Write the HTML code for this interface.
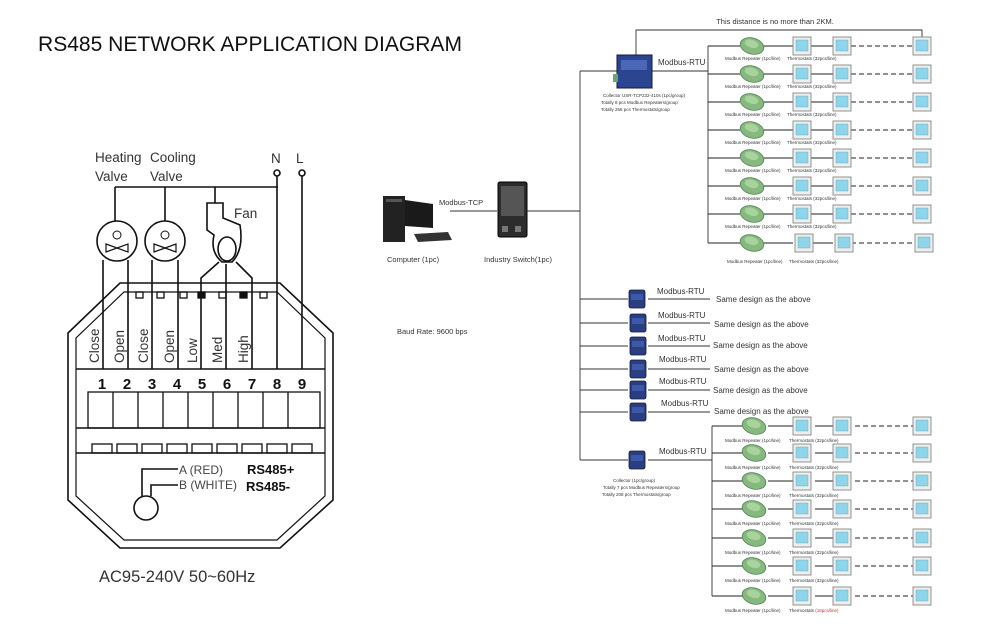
<!DOCTYPE html>
<html><head><meta charset="utf-8"><style>
html,body{margin:0;padding:0;background:#fff;width:1000px;height:636px;overflow:hidden}
svg{display:block}
text{font-family:"Liberation Sans",sans-serif}
</style></head><body>
<svg width="1000" height="636" viewBox="0 0 1000 636" xmlns="http://www.w3.org/2000/svg">
<defs>
<g id="th"><rect x="-9" y="-9" width="18" height="18" fill="#eeeeee" stroke="#888" stroke-width="0.9"/><rect x="-6" y="-6" width="12" height="11" fill="#8ed4ea" stroke="#5aa" stroke-width="0.4"/></g>
<g id="rep"><ellipse cx="0" cy="0" rx="12" ry="8" fill="#86b97e" stroke="#4f7f55" stroke-width="0.8" transform="rotate(15)"/><ellipse cx="-1" cy="-2" rx="7" ry="4" fill="#a9d39c" transform="rotate(15)"/></g>
<g id="col"><rect x="-8" y="-9" width="16" height="18" rx="2" fill="#2b3f80" stroke="#111a40" stroke-width="0.8"/><rect x="-6" y="-5" width="12" height="6" fill="#3d5aa8"/></g>
<g id="row" stroke="#222" stroke-width="1" fill="none">
<line x1="0" y1="0" x2="32" y2="0"/><line x1="56" y1="0" x2="85" y2="0"/><line x1="103" y1="0" x2="125" y2="0"/>
<line x1="143" y1="0" x2="205" y2="0" stroke-dasharray="5,3"/>
</g>
</defs>
<text x="38" y="51" font-size="21" fill="#111" textLength="424" lengthAdjust="spacingAndGlyphs">RS485 NETWORK APPLICATION DIAGRAM</text>

<!-- left wiring diagram -->
<g fill="none" stroke="#111" stroke-width="1.6">
<text x="95" y="162" font-size="13.5" fill="#333" stroke="none">Heating</text>
<text x="95" y="181" font-size="13.5" fill="#333" stroke="none">Valve</text>
<text x="150" y="162" font-size="13.5" fill="#333" stroke="none">Cooling</text>
<text x="150" y="181" font-size="13.5" fill="#333" stroke="none">Valve</text>
<text x="271" y="163" font-size="13.5" fill="#333" stroke="none">N</text>
<text x="296" y="163" font-size="13.5" fill="#333" stroke="none">L</text>
<text x="234" y="218" font-size="13.5" fill="#333" stroke="none">Fan</text>
<circle cx="277" cy="173" r="3"/><circle cx="302" cy="173" r="3"/>
<line x1="115" y1="187" x2="278" y2="187"/>
<line x1="115" y1="187" x2="115" y2="221"/><line x1="165" y1="187" x2="165" y2="221"/>
<line x1="215" y1="187" x2="215" y2="203"/>
<line x1="277" y1="176" x2="277" y2="369"/><line x1="302" y1="176" x2="302" y2="369"/>
<circle cx="117" cy="241" r="20"/><circle cx="165" cy="241" r="20"/>
<circle cx="117" cy="235" r="4" stroke-width="1"/><circle cx="165" cy="235" r="4" stroke-width="1"/>
<path d="M106 244 L128 252 L128 244 L106 252 Z" stroke-width="1.2"/>
<path d="M154 244 L176 252 L176 244 L154 252 Z" stroke-width="1.2"/>
<path d="M207 203 L223 203 L223 218 L240 225 Q244 250 232 262 L222 262 Q210 252 214 235 L207 230 Z"/>
<ellipse cx="227" cy="249" rx="9" ry="12"/>
<path d="M219 262 L201 278 L201 369"/><line x1="226" y1="264" x2="226" y2="369"/><path d="M236 262 L252 278 L252 369"/>
<line x1="103" y1="260" x2="103" y2="369"/><line x1="128" y1="260" x2="128" y2="369"/>
<line x1="152" y1="260" x2="152" y2="369"/><line x1="178" y1="260" x2="178" y2="369"/>
<!-- housing -->
<path d="M120 283 L280 283 L333 333 L333 500 L280 548 L120 548 L68 500 L68 333 Z"/>
<path d="M124 292 L277 292 L325 338 L325 496 L277 540 L124 540 L76 496 L76 338 Z" stroke-width="1.2"/>
<line x1="76" y1="369" x2="325" y2="369"/>
<line x1="76" y1="428" x2="325" y2="428"/>
<line x1="76" y1="453" x2="325" y2="453"/>
<g stroke-width="1.3">
<rect x="88" y="392" width="232" height="36"/>
<line x1="113" y1="392" x2="113" y2="428"/><line x1="138" y1="392" x2="138" y2="428"/><line x1="163" y1="392" x2="163" y2="428"/><line x1="188" y1="392" x2="188" y2="428"/><line x1="213" y1="392" x2="213" y2="428"/><line x1="238" y1="392" x2="238" y2="428"/><line x1="263" y1="392" x2="263" y2="428"/><line x1="288" y1="392" x2="288" y2="428"/>
<rect x="92" y="444" width="20" height="9"/><rect x="117" y="444" width="20" height="9"/><rect x="142" y="444" width="20" height="9"/><rect x="167" y="444" width="20" height="9"/><rect x="192" y="444" width="20" height="9"/><rect x="217" y="444" width="20" height="9"/><rect x="242" y="444" width="20" height="9"/><rect x="267" y="444" width="20" height="9"/><rect x="292" y="444" width="20" height="9"/>
<rect x="136" y="292" width="7" height="6"/><rect x="157" y="292" width="7" height="6"/><rect x="180" y="292" width="7" height="6"/><rect x="198" y="292" width="7" height="6" fill="#111"/><rect x="219" y="292" width="7" height="6"/><rect x="240" y="292" width="7" height="6" fill="#111"/><rect x="260" y="292" width="7" height="6"/>
</g>
<path d="M178 469 L142 469 L142 496"/><path d="M178 485 L151 485 L151 496"/>
<circle cx="146" cy="508" r="12"/>
</g>
<g font-size="13.5" fill="#333">
<text transform="translate(99,363) rotate(-90)">Close</text>
<text transform="translate(124,363) rotate(-90)">Open</text>
<text transform="translate(148,363) rotate(-90)">Close</text>
<text transform="translate(174,363) rotate(-90)">Open</text>
<text transform="translate(197,363) rotate(-90)">Low</text>
<text transform="translate(222,363) rotate(-90)">Med</text>
<text transform="translate(248,363) rotate(-90)">High</text>
</g>
<g font-size="15" font-weight="bold" fill="#111" text-anchor="middle">
<text x="102" y="389">1</text><text x="127" y="389">2</text><text x="152" y="389">3</text><text x="177" y="389">4</text><text x="202" y="389">5</text><text x="227" y="389">6</text><text x="252" y="389">7</text><text x="277" y="389">8</text><text x="302" y="389">9</text>
</g>
<text x="179" y="474" font-size="12" fill="#444">A (RED)</text>
<text x="179" y="489" font-size="12" fill="#444">B (WHITE)</text>
<text x="247" y="474" font-size="13" font-weight="bold" fill="#111">RS485+</text>
<text x="246" y="491" font-size="13" font-weight="bold" fill="#111">RS485-</text>
<text x="99" y="582" font-size="16.5" fill="#333">AC95-240V  50~60Hz</text>

<!-- middle: computer & switch -->
<rect x="383" y="196" width="22" height="46" fill="#222"/><rect x="386" y="199" width="16" height="3" fill="#555"/>
<path d="M405 200 L433 204 L433 228 L405 226 Z" fill="#1a1a1a"/>
<path d="M414 234 L448 232 L452 240 L418 242 Z" fill="#333"/>
<rect x="498" y="182" width="29" height="55" rx="2" fill="#2c2c2c" stroke="#000"/>
<rect x="501" y="186" width="23" height="30" fill="#555"/><rect x="502" y="226" width="6" height="6" fill="#777"/><rect x="515" y="226" width="6" height="6" fill="#777"/>
<line x1="450" y1="211" x2="497" y2="211" stroke="#333"/>
<text x="439" y="205" font-size="7.5" fill="#333">Modbus-TCP</text>
<text x="387" y="262" font-size="7.5" fill="#333">Computer (1pc)</text>
<text x="484" y="262" font-size="7.5" fill="#333">Industry Switch(1pc)</text>
<text x="397" y="334" font-size="7.5" fill="#333">Baud Rate: 9600 bps</text>

<!-- right network -->
<g stroke="#333" stroke-width="0.9" fill="none">
<line x1="527" y1="211" x2="580" y2="211"/>
<line x1="580" y1="71" x2="580" y2="460"/>
<line x1="580" y1="71" x2="617" y2="71"/>
<line x1="652" y1="71" x2="708" y2="71"/>
<path d="M636 55 L636 30 L922 30 L922 37"/>
<line x1="708" y1="46" x2="708" y2="243"/>
<line x1="580" y1="299" x2="628" y2="299"/><line x1="648" y1="299" x2="710" y2="299"/>
<line x1="580" y1="323" x2="628" y2="323"/><line x1="648" y1="323" x2="710" y2="323"/>
<line x1="580" y1="346" x2="628" y2="346"/><line x1="648" y1="346" x2="710" y2="346"/>
<line x1="580" y1="369" x2="628" y2="369"/><line x1="648" y1="369" x2="710" y2="369"/>
<line x1="580" y1="390" x2="628" y2="390"/><line x1="648" y1="390" x2="710" y2="390"/>
<line x1="580" y1="412" x2="628" y2="412"/><line x1="648" y1="412" x2="710" y2="412"/>
<line x1="580" y1="460" x2="628" y2="460"/><line x1="648" y1="460" x2="712" y2="460"/>
<line x1="712" y1="426" x2="712" y2="596"/>
</g>
<rect x="617" y="55" width="35" height="33" fill="#2b4590" stroke="#111a40"/>
<rect x="621" y="60" width="26" height="10" fill="#4a68b8"/><rect x="613" y="74" width="5" height="8" fill="#6a6"/>
<text x="775" y="24" font-size="7.5" fill="#333" text-anchor="middle">This distance is no more than 2KM.</text>
<text x="658" y="65" font-size="8" fill="#333">Modbus-RTU</text>
<g font-size="4.5" fill="#333"><text x="603" y="97">Collector USR-TCP232-410s (1pc/group)</text><text x="601" y="104">Totally 8 pcs Modbus Repeaters/group</text><text x="601" y="111">Totally 256 pcs Thermostats/group</text></g>

<g transform="translate(708,46)"><use href="#row"/><use href="#rep" x="44"/><use href="#th" x="94"/><use href="#th" x="134"/><use href="#th" x="214"/></g>
<g transform="translate(708,74)"><use href="#row"/><use href="#rep" x="44"/><use href="#th" x="94"/><use href="#th" x="134"/><use href="#th" x="214"/></g>
<g transform="translate(708,102)"><use href="#row"/><use href="#rep" x="44"/><use href="#th" x="94"/><use href="#th" x="134"/><use href="#th" x="214"/></g>
<g transform="translate(708,130)"><use href="#row"/><use href="#rep" x="44"/><use href="#th" x="94"/><use href="#th" x="134"/><use href="#th" x="214"/></g>
<g transform="translate(708,158)"><use href="#row"/><use href="#rep" x="44"/><use href="#th" x="94"/><use href="#th" x="134"/><use href="#th" x="214"/></g>
<g transform="translate(708,186)"><use href="#row"/><use href="#rep" x="44"/><use href="#th" x="94"/><use href="#th" x="134"/><use href="#th" x="214"/></g>
<g transform="translate(708,214)"><use href="#row"/><use href="#rep" x="44"/><use href="#th" x="94"/><use href="#th" x="134"/><use href="#th" x="214"/></g>
<g transform="translate(708,243)"><use href="#row"/><use href="#rep" x="44"/><use href="#th" x="96"/><use href="#th" x="136"/><use href="#th" x="216"/></g>
<g font-size="4.5" fill="#333">
<text x="725" y="60">Modbus Repeater (1pc/line)</text><text x="787" y="60">Thermostats (32pcs/line)</text>
<text x="725" y="88">Modbus Repeater (1pc/line)</text><text x="787" y="88">Thermostats (32pcs/line)</text>
<text x="725" y="116">Modbus Repeater (1pc/line)</text><text x="787" y="116">Thermostats (32pcs/line)</text>
<text x="725" y="144">Modbus Repeater (1pc/line)</text><text x="787" y="144">Thermostats (32pcs/line)</text>
<text x="725" y="172">Modbus Repeater (1pc/line)</text><text x="787" y="172">Thermostats (32pcs/line)</text>
<text x="725" y="200">Modbus Repeater (1pc/line)</text><text x="787" y="200">Thermostats (32pcs/line)</text>
<text x="725" y="228">Modbus Repeater (1pc/line)</text><text x="787" y="228">Thermostats (32pcs/line)</text>
<text x="727" y="263">Modbus Repeater (1pc/line)</text><text x="789" y="263">Thermostats (32pcs/line)</text>
</g>

<use href="#col" x="637" y="299"/><use href="#col" x="638" y="323"/><use href="#col" x="638" y="346"/><use href="#col" x="638" y="369"/><use href="#col" x="638" y="390"/><use href="#col" x="638" y="412"/><use href="#col" x="637" y="460"/>
<g font-size="8" fill="#333">
<text x="657" y="294">Modbus-RTU</text><text x="716" y="302">Same design as the above</text>
<text x="658" y="318">Modbus-RTU</text><text x="714" y="327">Same design as the above</text>
<text x="658" y="341">Modbus-RTU</text><text x="713" y="348">Same design as the above</text>
<text x="659" y="362">Modbus-RTU</text><text x="714" y="372">Same design as the above</text>
<text x="659" y="384">Modbus-RTU</text><text x="713" y="393">Same design as the above</text>
<text x="661" y="406">Modbus-RTU</text><text x="714" y="414">Same design as the above</text>
<text x="659" y="454">Modbus-RTU</text>
</g>
<g font-size="4.5" fill="#333"><text x="613" y="482">Collector (1pc/group)</text><text x="603" y="489">Totally 7 pcs Modbus Repeaters/group</text><text x="602" y="496">Totally 208 pcs Thermostats/group</text></g>

<g transform="translate(712,426)"><use href="#row"/><use href="#rep" x="42"/><use href="#th" x="90"/><use href="#th" x="130"/><use href="#th" x="210"/></g>
<g transform="translate(712,453)"><use href="#row"/><use href="#rep" x="42"/><use href="#th" x="90"/><use href="#th" x="130"/><use href="#th" x="210"/></g>
<g transform="translate(712,481)"><use href="#row"/><use href="#rep" x="42"/><use href="#th" x="90"/><use href="#th" x="130"/><use href="#th" x="210"/></g>
<g transform="translate(712,509)"><use href="#row"/><use href="#rep" x="42"/><use href="#th" x="90"/><use href="#th" x="130"/><use href="#th" x="210"/></g>
<g transform="translate(712,538)"><use href="#row"/><use href="#rep" x="42"/><use href="#th" x="90"/><use href="#th" x="130"/><use href="#th" x="210"/></g>
<g transform="translate(712,566)"><use href="#row"/><use href="#rep" x="42"/><use href="#th" x="90"/><use href="#th" x="130"/><use href="#th" x="210"/></g>
<g transform="translate(712,596)"><use href="#row"/><use href="#rep" x="42"/><use href="#th" x="90"/><use href="#th" x="130"/><use href="#th" x="210"/></g>
<g font-size="4.5" fill="#333">
<text x="725" y="442">Modbus Repeater (1pc/line)</text><text x="789" y="442">Thermostats (32pcs/line)</text>
<text x="725" y="469">Modbus Repeater (1pc/line)</text><text x="789" y="469">Thermostats (32pcs/line)</text>
<text x="725" y="497">Modbus Repeater (1pc/line)</text><text x="789" y="497">Thermostats (32pcs/line)</text>
<text x="725" y="525">Modbus Repeater (1pc/line)</text><text x="789" y="525">Thermostats (32pcs/line)</text>
<text x="725" y="554">Modbus Repeater (1pc/line)</text><text x="789" y="554">Thermostats (32pcs/line)</text>
<text x="725" y="582">Modbus Repeater (1pc/line)</text><text x="789" y="582">Thermostats (32pcs/line)</text>
<text x="725" y="612">Modbus Repeater (1pc/line)</text><text x="789" y="612">Thermostats <tspan fill="#c0392b">(16pcs/line)</tspan></text>
</g>
</svg>
</body></html>
